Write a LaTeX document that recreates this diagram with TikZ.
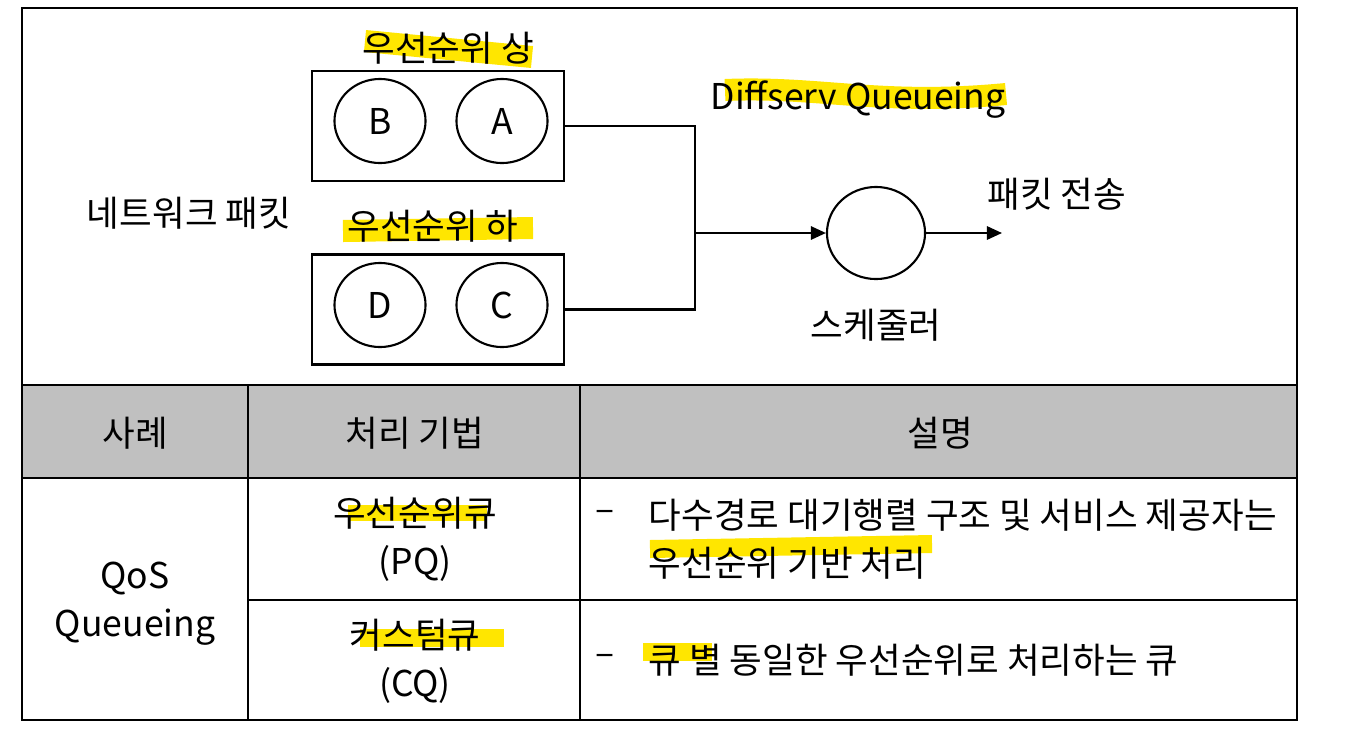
\documentclass[tikz,border=0pt]{standalone}
\usepackage{fontspec}
\setmainfont{Noto Sans CJK KR}
\usetikzlibrary{shapes.geometric,arrows.meta}

\definecolor{marker}{RGB}{255,230,0}
\definecolor{headgray}{RGB}{192,192,192}

\begin{document}
\begin{tikzpicture}[x=0.01cm,y=-0.01cm,
    every node/.style={inner sep=0pt,font=\fontsize{10.1}{13.6}\selectfont},
    queue/.style={draw,line width=0.6pt,minimum width=2.52cm,minimum height=1.1cm},
    pkt/.style={draw,ellipse,line width=0.6pt,minimum width=0.91cm,minimum height=0.84cm},
    hl/.style={marker,line width=0.2cm},
    wire/.style={line width=0.6pt},
    grid/.style={line width=0.8pt}]
    \useasboundingbox (0,0) rectangle (1352,736);

    % highlighter marks
    \draw[hl,line width=0.22cm] (365,41) -- (532,57);
    \draw[hl,line width=0.22cm] (725,90) .. controls (820,86) and (880,106) .. (1006,94);
    \draw[hl,line width=0.22cm] (343,231) -- (533,228);
    \draw[hl,line width=0.16cm] (348,513) -- (487,513);
    \draw[hl,line width=0.18cm] (360,638) -- (504,638);
    \draw[hl,line width=0.18cm] (650,549) -- (932,544);
    \draw[hl,line width=0.18cm] (643,652) -- (712,652);

    % queues
    \node[queue] (boxHigh) at (438,126) {};
    \node[queue] (boxLow) at (438,309.5) {};
    \node[pkt] (pktB) at (380,121) {B};
    \node[pkt] (pktA) at (502,121) {A};
    \node[pkt] (pktD) at (380,305) {D};
    \node[pkt] (pktC) at (502,305) {C};

    \node (lblHigh) at (448,48) {우선순위 상};
    \node (lblLow) at (433,226) {우선순위 하};
    \node (lblNet) at (189,213) {네트워크 패킷};
    \node (lblDiff) at (858,100) {Diffserv Queueing};

    % scheduler
    \node[pkt,minimum width=0.98cm,minimum height=0.92cm] (sched) at (876,233) {};
    \node (lblSched) at (876,325) {스케줄러};
    \node (lblSend) at (1057,194) {패킷 전송};
    \coordinate (join) at (695,233);
    \coordinate (out) at (1002,233);

    \draw[wire] (boxHigh.east) -| (join);
    \draw[wire] (boxLow.east) -| (join);
    \draw[wire,-{Triangle[length=4.3pt,width=3.8pt]}] (join) -- (sched.west);
    \draw[wire,-{Triangle[length=4.3pt,width=3.8pt]}] (sched.east) -- (out);

    % table
    \fill[headgray] (22,385) rectangle (1297,478);
    \draw[grid] (22,8) rectangle (1297,720);
    \draw[grid] (22,385) -- (1297,385);
    \draw[grid] (22,478) -- (1297,478);
    \draw[grid] (248,600) -- (1297,600);
    \draw[grid] (248,385) -- (248,720);
    \draw[grid] (580,385) -- (580,720);

    \node (hCase) at (135,433) {사례};
    \node (hMethod) at (415,433) {처리 기법};
    \node (hDesc) at (940,433) {설명};

    \node[align=center] (case) at (135,604) {QoS\\Queueing};
    \node[align=center] (pq) at (415,539) {우선순위큐\\(PQ)};
    \node[align=center] (cq) at (415,661) {커스텀큐\\(CQ)};

    \node (dashPQ) at (605,516) {–};
    \node[anchor=west,align=left] (descPQ) at (648,539) {다수경로 대기행렬 구조 및 서비스 제공자는\\우선순위 기반 처리};
    \node (dashCQ) at (605,660) {–};
    \node[anchor=west] (descCQ) at (648,660) {큐 별 동일한 우선순위로 처리하는 큐};
\end{tikzpicture}
\end{document}
